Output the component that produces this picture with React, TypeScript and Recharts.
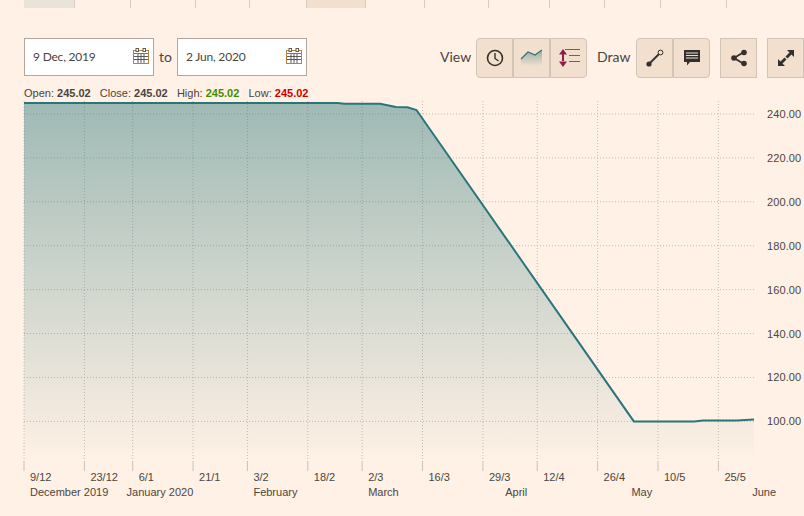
import { AreaChart, Area, XAxis, YAxis, CartesianGrid } from "recharts";

// x positions are trading days counted from 9 Dec 2019
const days = [0, 52, 53, 59, 61.6, 63.5, 65, 101, 111, 112.5, 118, 120.9];
const closes = [245.02, 245.02, 244.6, 244.6, 243.2, 243, 241.8, 100, 100, 100.4, 100.4, 100.9];

const dayTicks = [0, 10, 18, 28, 37, 47, 56, 66, 76, 85, 95, 105, 115];
const dayLabels = ["9/12", "23/12", "6/1", "21/1", "3/2", "18/2", "2/3", "16/3", "29/3", "12/4", "26/4", "10/5", "25/5"];
const monthTicks = [0, 16, 37, 56, 78.7, 99.6, 119.6];
const monthLabels = ["December 2019", "January 2020", "February", "March", "April", "May", "June"];
const priceTicks = [100, 120, 140, 160, 180, 200, 220, 240];

const tabLines = [74, 130, 195, 249, 306, 365, 424, 488, 549, 604, 660, 726];

const chartData = days.map((day, i) => ({ day, close: closes[i] }));

const BG = "#fff1e5";
const LINE = "#29767a";
const TEXT = "#4d4540";
const UI_FONT = "Lato, sans-serif";
const CHART_FONT = "'Liberation Sans', sans-serif";

function DayTick({ x, y, payload }: any) {
  const label = dayLabels[dayTicks.indexOf(payload.value)];
  return (
    <g>
      <line x1={x} x2={x} y1={y - 8} y2={y + 1} stroke="#c9c1b8" />
      <text x={x + 6} y={y + 11} fontSize={11} fill={TEXT} fontFamily={CHART_FONT}>{label}</text>
    </g>
  );
}

function MonthTick({ x, y, payload }: any) {
  const label = monthLabels[monthTicks.indexOf(payload.value)];
  return <text x={x + 6} y={y + 6} fontSize={11} fill={TEXT} fontFamily={CHART_FONT}>{label}</text>;
}

function PriceTick({ x, y, payload }: any) {
  return <text x={x + 5} y={y + 4} fontSize={11} letterSpacing={0.1} fill={TEXT} fontFamily={CHART_FONT}>{payload.value.toFixed(2)}</text>;
}

function Button({ left, width = 37, children, radius = "0" }: any) {
  return (
    <div style={{ position: "absolute", left, top: 38, width, height: 40, boxSizing: "border-box", background: "#f2dfce", border: "1px solid #d2c4b6", borderRadius: radius, display: "flex", alignItems: "center", justifyContent: "center" }}>
      {children}
    </div>
  );
}

function DateBox({ left, label }: any) {
  return (
    <div style={{ position: "absolute", left, top: 38, width: 130, height: 38, boxSizing: "border-box", background: "#fff", border: "1px solid #b3a79d", fontFamily: UI_FONT, fontSize: 12, letterSpacing: -0.2, color: "#4a4440", lineHeight: "36px", paddingLeft: 8 }}>
      {label}
      <svg width="18" height="18" viewBox="0 0 18 18" style={{ position: "absolute", right: 3, top: 8 }}>
        <rect x="1.5" y="3.5" width="15" height="13" fill="#fff" stroke="#b9813f" />
        <path d="M2 6.5H16" stroke="#3f86b8" strokeWidth="1" />
        <path d="M2 9.5H16M2 12.5H16M6 7V16M9 7V16M12 7V16" stroke="#4a4a4a" strokeWidth="0.9" />
        <rect x="4" y="1.5" width="2.5" height="3" fill="#fff" stroke="#6a5a4a" />
        <rect x="11" y="1.5" width="2.5" height="3" fill="#fff" stroke="#6a5a4a" />
      </svg>
    </div>
  );
}

export default function App() {
  return (
    <div style={{ position: "fixed", left: 0, top: 0, width: 804, height: 516, background: BG, overflow: "hidden" }}>
      <div style={{ position: "absolute", left: 24, top: 0, width: 50, height: 8, background: "#e8e4da" }} />
      <div style={{ position: "absolute", left: 306, top: 0, width: 59, height: 8, background: "#f2dfce" }} />
      {tabLines.map((x) => (
        <div key={x} style={{ position: "absolute", left: x, top: 0, width: 1, height: 8, background: "#d8ccc0" }} />
      ))}

      <DateBox left={24} label="9 Dec, 2019" />
      <DateBox left={177} label="2 Jun, 2020" />
      <div style={{ position: "absolute", left: 159, top: 48, fontFamily: UI_FONT, fontSize: 14, color: "#4a4440" }}>to</div>
      <div style={{ position: "absolute", left: 440, top: 48, fontFamily: UI_FONT, fontSize: 14, color: "#4a4440" }}>View</div>
      <div style={{ position: "absolute", left: 597, top: 48, fontFamily: UI_FONT, fontSize: 14, color: "#4a4440" }}>Draw</div>

      <Button left={476} radius="4px 0 0 4px">
        <svg width="20" height="20" viewBox="0 0 20 20"><circle cx="10" cy="10" r="7.5" fill="none" stroke="#33302e" strokeWidth="1.6" /><path d="M10 5V10.5L13.5 13" fill="none" stroke="#33302e" strokeWidth="1.4" /></svg>
      </Button>
      <Button left={513}>
        <svg width="24" height="22" viewBox="0 0 24 22">
          <defs>
            <linearGradient id="iconFill" x1="0" y1="0" x2="0" y2="1">
              <stop offset="0%" stopColor={LINE} stopOpacity={0.45} />
              <stop offset="100%" stopColor={LINE} stopOpacity={0} />
            </linearGradient>
          </defs>
          <path d="M1 12L8 5L15 8L22 3V19H1Z" fill="url(#iconFill)" />
          <path d="M1 12L8 5L15 8L22 3" fill="none" stroke={LINE} strokeWidth="1.2" />
        </svg>
      </Button>
      <Button left={550} radius="0 4px 4px 0">
        <svg width="26" height="22" viewBox="0 0 26 22"><path d="M7 2L11 7.5H3ZM7 20L11 14.5H3ZM6 7H8V15H6Z" fill="#8e2048" /><path d="M9 2.5H24M13 8.5H24M13 14.5H24" stroke="#6a6460" strokeWidth="1" /></svg>
      </Button>
      <Button left={636} radius="4px 0 0 4px">
        <svg width="20" height="20" viewBox="0 0 20 20"><path d="M4 16L14 6" stroke="#33302e" strokeWidth="1.8" /><circle cx="4" cy="16" r="2.6" fill="#33302e" /><circle cx="15.5" cy="4.5" r="2.4" fill="none" stroke="#33302e" /></svg>
      </Button>
      <Button left={673} radius="0 4px 4px 0">
        <svg width="18" height="18" viewBox="0 0 18 18"><path d="M1 1H17V13H7L4 16.5V13H1Z" fill="#33302e" /><path d="M3 4H15M3 6.5H15M3 9H15" stroke="#f2dfce" strokeWidth="1" /></svg>
      </Button>
      <Button left={720}>
        <svg width="18" height="18" viewBox="0 0 18 18"><path d="M14 3L4 9L14 15" fill="none" stroke="#33302e" strokeWidth="1.8" /><circle cx="14" cy="3.5" r="2.8" fill="#33302e" /><circle cx="4" cy="9" r="2.8" fill="#33302e" /><circle cx="14" cy="14.5" r="2.8" fill="#33302e" /></svg>
      </Button>
      <Button left={767}>
        <svg width="20" height="20" viewBox="0 0 20 20"><path d="M11 2H18V9L15.5 6.5L11.5 10.5L9.5 8.5L13.5 4.5ZM9 18H2V11L4.5 13.5L8.5 9.5L10.5 11.5L6.5 15.5Z" fill="#33302e" /></svg>
      </Button>

      <div style={{ position: "absolute", left: 24, top: 87, fontFamily: CHART_FONT, fontSize: 11, color: "#4a4440", whiteSpace: "pre" }}>
        {"Open: "}<b>245.02</b>{"   Close: "}<b>245.02</b>{"   High: "}<b style={{ color: "#458b00" }}>245.02</b>{"   Low: "}<b style={{ color: "#cc0000" }}>245.02</b>
      </div>

      <div style={{ position: "absolute", left: 0, top: 0 }}>
        <AreaChart width={804} height={516} data={chartData} margin={{ top: 101, right: 0, bottom: 0, left: 24 }}>
          <defs>
            <linearGradient id="closeFill" x1="0" y1="0" x2="0" y2="1">
              <stop offset="0%" stopColor={LINE} stopOpacity={0.45} />
              <stop offset="100%" stopColor={LINE} stopOpacity={0} />
            </linearGradient>
          </defs>
          <CartesianGrid xAxisId="days" yAxisId="price" stroke="#c4bcb2" strokeDasharray="1 2" syncWithTicks />
          <XAxis xAxisId="days" dataKey="day" type="number" domain={[0, 120.9]} ticks={dayTicks} interval={0} axisLine={false} tickLine={false} height={20} tick={<DayTick />} />
          <XAxis xAxisId="months" dataKey="day" type="number" domain={[0, 120.9]} ticks={monthTicks} interval={0} axisLine={false} tickLine={false} height={34} tick={<MonthTick />} />
          <YAxis yAxisId="price" orientation="right" type="number" domain={[81.5, 245.9]} ticks={priceTicks} interval={0} axisLine={false} tickLine={false} width={50} tick={<PriceTick />} />
          <Area xAxisId="days" yAxisId="price" type="linear" dataKey="close" stroke={LINE} strokeWidth={2} fill="url(#closeFill)" fillOpacity={1} dot={false} activeDot={false} isAnimationActive={false} />
        </AreaChart>
      </div>
    </div>
  );
}
